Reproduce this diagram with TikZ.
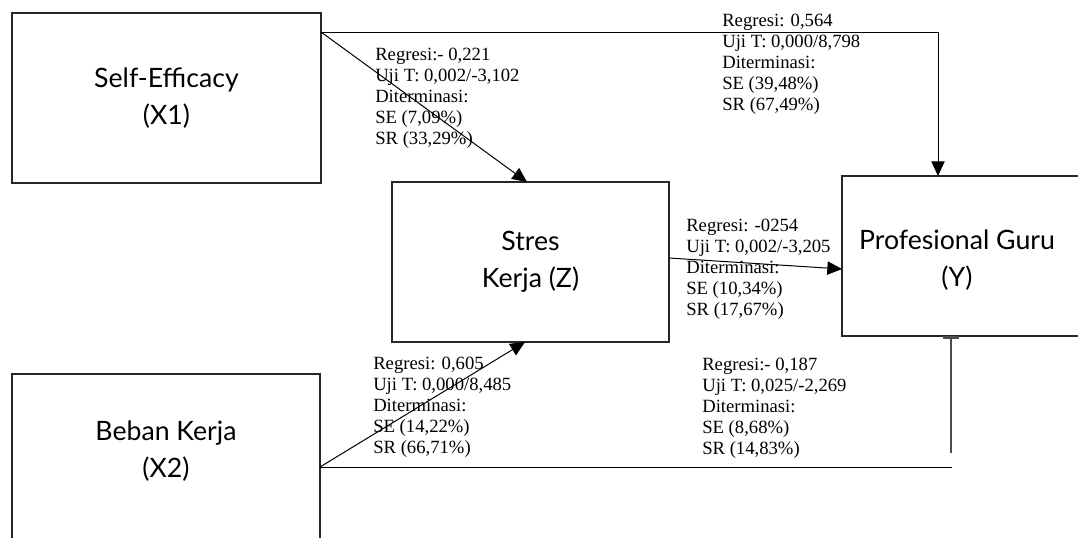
\documentclass[tikz,border=0pt]{standalone}
\usepackage{fontspec}
\setmainfont{Liberation Serif}
\newfontfamily\boxfont{Lato}
\usetikzlibrary{arrows.meta,calc}
\begin{document}
\begin{tikzpicture}[x=0.75pt,y=-0.75pt,
  varbox/.style={draw=black!85, line width=0.9pt, inner sep=0pt, outer sep=0pt,
    align=center, font=\boxfont\fontsize{20}{27.75}\selectfont},
  boxtext/.style={inner sep=0pt, align=center, font=\boxfont\fontsize{20}{27.75}\selectfont},
  lbl/.style={anchor=north west, inner sep=0pt, align=left, font=\fontsize{14}{15.75}\selectfont},
  conn/.style={draw=black, line width=0.75pt},
  arr/.style={conn, -{Triangle[length=11pt,width=10pt]}},
  bararr/.style={draw=black!70, line width=1.2pt, -{Rectangle[length=2.5pt,width=12pt]}}]
\clip (0,0) rectangle (1078,537);
\fill[white] (0,0) rectangle (1078,537);
% boxes
\node[varbox, minimum width=231.75pt, minimum height=127.5pt] (X1) at (166.5,98) {Self-Efficacy\\(X1)};
\node[varbox, minimum width=207.75pt, minimum height=120pt] (Z) at (530.5,262) {Stres\\Kerja (Z)};
\node[varbox, minimum width=193.5pt, minimum height=120pt] (Y) at (971,256) {};
\node[boxtext] (Yt) at (957,260.5) {Profesional Guru\\(Y)};
\node[varbox, minimum width=231pt, minimum height=127.5pt] (X2) at (166,459) {};
\node[boxtext] (X2t) at (166,451) {Beban Kerja\\(X2)};
% connection points
\coordinate (s1) at ($(X1.north east)+(0,19)$);
\coordinate (ytop) at ($(Y.north west)+(96,0)$);
\coordinate (s2) at ($(X2.north east)+(0,93)$);
\coordinate (ybot) at ($(Y.south west)+(109,0)$);
\coordinate (hend) at ($(s2 -| ybot)+(1,0)$);
\coordinate (vstart) at ($(ybot)+(0,117)$);
% connectors
\draw[arr] (s1) -- ($(Z.north)+(-3.5,0)$);
\draw[arr] (s1) -| (ytop);
\draw[arr] ($(Z.east)+(0,-4)$) -- ($(Y.west)+(0,13)$);
\draw[arr] (s2) -- ($(Z.south)+(-5.5,0)$);
\draw[conn] (s2) -- (hend);
\draw[bararr] (vstart) -- (ybot);
% labels
\node[lbl] (L1) at (375,45.5) {\rule{0pt}{11pt}Regresi:- 0,221\\Uji T: 0,002/-3,102\\Diterminasi:\\SE (7,09\%)\\SR (33,29\%)};
\node[lbl] (L2) at (722,11.3) {\rule{0pt}{11pt}Regresi: 0,564\\Uji T: 0,000/8,798\\Diterminasi:\\SE (39,48\%)\\SR (67,49\%)};
\node[lbl] (L3) at (686,216.5) {\rule{0pt}{11pt}Regresi: -0254\\Uji T: 0,002/-3,205\\Diterminasi:\\SE (10,34\%)\\SR (17,67\%)};
\node[lbl] (L4) at (373,354.3) {\rule{0pt}{11pt}Regresi: 0,605\\Uji T: 0,000/8,485\\Diterminasi:\\SE (14,22\%)\\SR (66,71\%)};
\node[lbl] (L5) at (702,355.5) {\rule{0pt}{11pt}Regresi:- 0,187\\Uji T: 0,025/-2,269\\Diterminasi:\\SE (8,68\%)\\SR (14,83\%)};
\end{tikzpicture}
\end{document}
